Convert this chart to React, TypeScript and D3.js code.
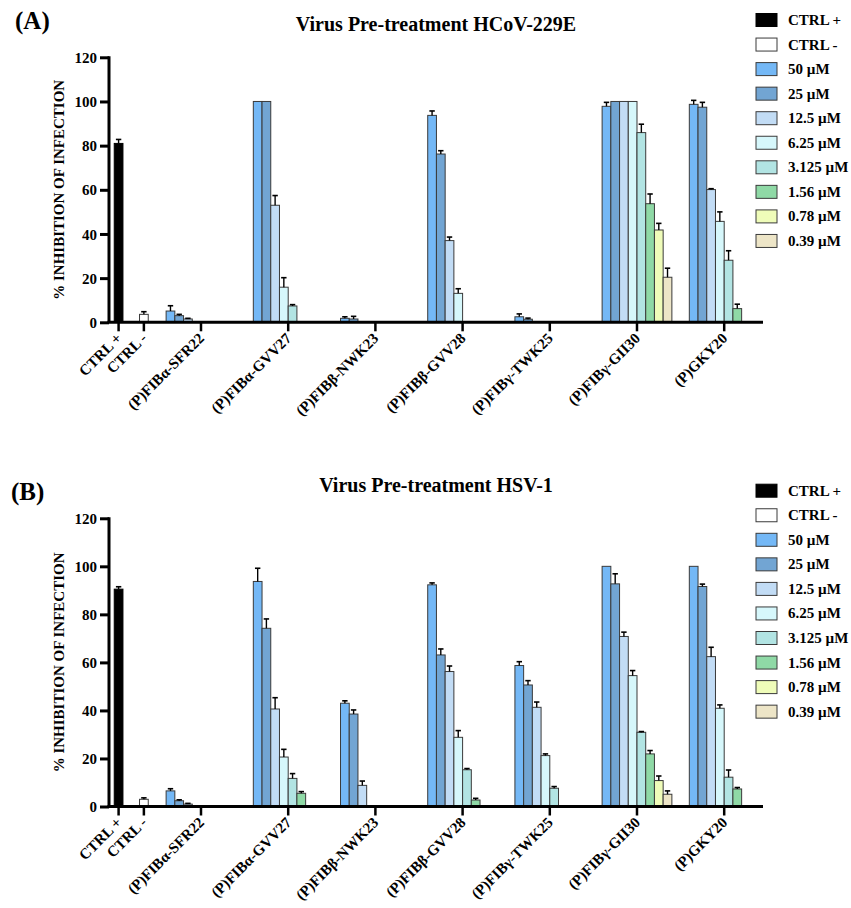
// two grouped bar panels: virus pre-treatment, HCoV-229E and HSV-1
import { useEffect, useRef } from 'react';
import * as d3 from 'd3';

const ctrlLabels = ['CTRL +', 'CTRL -'];
const peptides = ['(P)FIBα-SFR22', '(P)FIBα-GVV27', '(P)FIBβ-NWK23', '(P)FIBβ-GVV28', '(P)FIBγ-TWK25', '(P)FIBγ-GII30', '(P)GKY20'];
const concentrations = ['50 µM', '25 µM', '12.5 µM', '6.25 µM', '3.125 µM', '1.56 µM', '0.78 µM', '0.39 µM'];
const yTicks = [0, 20, 40, 60, 80, 100, 120];

// HCoV-229E
const hcovCtrl = [81, 3.6];
const hcovCtrlErr = [1.8, 1.2];
const hcovMean = [
  [5.1, 3.0, 1.5, 0, 0, 0, 0, 0],
  [100, 100, 53, 15.9, 7.4, 0, 0, 0],
  [1.8, 1.5, 0, 0, 0, 0, 0, 0],
  [93.7, 76.2, 37, 13.1, 0, 0, 0, 0],
  [2.5, 1.4, 0, 0, 0, 0, 0, 0],
  [97.8, 100, 100, 100, 85.9, 53.7, 41.8, 20.4],
  [98.7, 97.4, 60.1, 45.7, 28.1, 6.2, 0, 0],
];
const hcovErr = [
  [2.4, 0.6, 0.3, 0, 0, 0, 0, 0],
  [0, 0, 4.4, 4.3, 0.6, 0, 0, 0],
  [0.7, 1.2, 0, 0, 0, 0, 0, 0],
  [2.0, 1.5, 1.6, 2.1, 0, 0, 0, 0],
  [1.3, 0.5, 0, 0, 0, 0, 0, 0],
  [1.8, 0, 0, 0, 3.8, 4.4, 3.0, 4.1],
  [1.8, 2.2, 0.4, 4.3, 4.3, 2.0, 0, 0],
];

// HSV-1
const hsvCtrl = [90.5, 3.0];
const hsvCtrlErr = [1.0, 0.6];
const hsvMean = [
  [6.5, 2.4, 1.0, 0, 0, 0, 0, 0],
  [93.7, 74.2, 40.6, 20.6, 11.7, 5.5, 0, 0],
  [43, 38.5, 8.8, 0, 0, 0, 0, 0],
  [92.3, 63.1, 56.2, 28.8, 15.3, 2.7, 0, 0],
  [58.7, 50.6, 41.3, 21.2, 7.6, 0, 0, 0],
  [100, 92.7, 70.8, 54.5, 30.9, 21.9, 10.8, 5.1],
  [100, 91.6, 62.4, 40.9, 12.2, 7.3, 0, 0],
];
const hsvErr = [
  [0.9, 0.4, 0.3, 0, 0, 0, 0, 0],
  [5.5, 3.9, 4.7, 3.2, 2.0, 0.7, 0, 0],
  [1.0, 1.7, 1.8, 0, 0, 0, 0, 0],
  [0.8, 2.5, 2.3, 2.8, 0.5, 0.7, 0, 0],
  [1.6, 1.8, 2.2, 0.7, 0.7, 0, 0, 0],
  [0, 4.2, 1.8, 2.1, 0.3, 1.4, 1.9, 1.4],
  [0, 1.0, 3.9, 1.4, 3.0, 0.6, 0, 0],
];

const ctrlColors = ['#000000', '#ffffff'];
const concColors = ['#74b8f6', '#72a5d3', '#c2dcf5', '#d6f7fb', '#b2e4e3', '#8fd9a6', '#effcb9', '#ede5c7'];

const FONT = '"Liberation Serif", "Times New Roman", serif';

function drawPanel(g, o) {
  const x = d3.scaleLinear().domain([0, 75]).range([109, 763]);
  const y = d3.scaleLinear().domain([0, 120]).range([o.y0, o.y120]);
  const bw = x(1) - x(0);
  const ctrlPos = [1.1, 4.0];
  const groupPos = peptides.map((p, i) => 10.55 + 10 * i);

  // titles
  g.append('text').attr('x', o.letterX).attr('y', o.letterY).text(o.letter)
    .style('font-size', 25).style('font-weight', 'bold');
  g.append('text').attr('x', 436).attr('y', o.titleY).attr('text-anchor', 'middle')
    .text(o.title).style('font-size', 20).style('font-weight', 'bold');

  // bars
  const bars = [];
  ctrlLabels.forEach((c, i) => bars.push({
    x: x(ctrlPos[i]) - bw / 2, v: o.ctrl[i], e: o.ctrlErr[i], fill: ctrlColors[i],
  }));
  peptides.forEach((p, i) => o.mean[i].forEach((v, j) => bars.push({
    x: x(groupPos[i] - 4 + j), v, e: o.err[i][j], fill: concColors[j],
  })));
  const shown = bars.filter(d => d.v > 0);
  g.selectAll('rect.bar').data(shown).join('rect')
    .attr('class', 'bar')
    .attr('x', d => d.x).attr('width', bw)
    .attr('y', d => y(d.v)).attr('height', d => y(0) - y(d.v))
    .attr('fill', d => d.fill)
    .attr('stroke', d => d.fill === '#000000' ? '#000' : '#3a3a3a')
    .attr('stroke-width', 1);

  const eb = shown.filter(d => d.e > 0);
  g.selectAll('line.err').data(eb).join('line')
    .attr('class', 'err')
    .attr('x1', d => d.x + bw / 2).attr('x2', d => d.x + bw / 2)
    .attr('y1', d => y(d.v)).attr('y2', d => y(d.v + d.e))
    .attr('stroke', '#000').attr('stroke-width', 1.4);
  g.selectAll('line.cap').data(eb).join('line')
    .attr('class', 'cap')
    .attr('x1', d => d.x + bw / 2 - 2.7).attr('x2', d => d.x + bw / 2 + 2.7)
    .attr('y1', d => y(d.v + d.e)).attr('y2', d => y(d.v + d.e))
    .attr('stroke', '#000').attr('stroke-width', 1.6);

  // y axis
  const ya = g.append('g').attr('transform', `translate(${x(0)},0)`)
    .call(d3.axisLeft(y).tickValues(yTicks).tickSize(9).tickPadding(3).tickSizeOuter(0));
  ya.select('.domain').attr('stroke-width', 3).attr('d', `M0,${y(120) - 1}V${y(0)}`);
  ya.selectAll('.tick line').attr('stroke-width', 3);
  ya.selectAll('.tick text').style('font-size', 15).style('font-weight', 'bold')
    .style('font-family', FONT).attr('dy', '0.34em');

  // x axis
  const tickPos = ctrlPos.concat(groupPos);
  const tickLabels = ctrlLabels.concat(peptides);
  const xa = g.append('g').attr('transform', `translate(0,${y(0)})`);
  xa.append('line').attr('x1', x(0) - 1.5).attr('x2', x(75)).attr('stroke', '#000').attr('stroke-width', 3);
  xa.selectAll('line.tk').data(tickPos).join('line').attr('class', 'tk')
    .attr('x1', d => x(d)).attr('x2', d => x(d)).attr('y1', 0).attr('y2', 9)
    .attr('stroke', '#000').attr('stroke-width', 2.5);
  xa.selectAll('text').data(tickLabels).join('text')
    .attr('transform', (d, i) => `translate(${x(tickPos[i]) + 4},${17}) rotate(-45)`)
    .attr('text-anchor', 'end')
    .text(d => d)
    .style('font-size', 15).style('font-weight', 'bold');

  // y label
  g.append('text')
    .attr('transform', `translate(64,${(y(0) + y(120)) / 2}) rotate(-90)`)
    .attr('text-anchor', 'middle')
    .text('% INHIBITION OF INFECTION')
    .style('font-size', 15).style('font-weight', 'bold');

  // legend
  const legendLabels = ctrlLabels.concat(concentrations);
  const legendColors = ctrlColors.concat(concColors);
  const lg = g.selectAll('g.leg').data(legendLabels).join('g').attr('class', 'leg')
    .attr('transform', (d, i) => `translate(756,${o.legendY + i * 24.55})`);
  lg.append('rect').attr('x', 0).attr('y', -6.5).attr('width', 21).attr('height', 13)
    .attr('fill', (d, i) => legendColors[i]).attr('stroke', (d, i) => i === 0 ? '#000' : '#3a3a3a');
  lg.append('text').attr('x', 32).attr('y', 5).text(d => d)
    .style('font-size', 15).style('font-weight', 'bold');
}

export default function App() {
  const ref = useRef(null);
  useEffect(() => {
    const svg = d3.select(ref.current);
    svg.selectAll('*').remove();
    drawPanel(svg.append('g'), {
      letter: '(A)', letterX: 15, letterY: 29, title: 'Virus Pre-treatment HCoV-229E', titleY: 31,
      y0: 322.3, y120: 57.3, legendY: 20,
      ctrl: hcovCtrl, ctrlErr: hcovCtrlErr, mean: hcovMean, err: hcovErr,
    });
    drawPanel(svg.append('g'), {
      letter: '(B)', letterX: 11, letterY: 500, title: 'Virus Pre-treatment HSV-1', titleY: 492,
      y0: 806.5, y120: 518.3, legendY: 490.7,
      ctrl: hsvCtrl, ctrlErr: hsvCtrlErr, mean: hsvMean, err: hsvErr,
    });
  }, []);

  return (
    <svg ref={ref} width={851} height={908}
      style={{ position: 'absolute', left: 0, top: 0, background: '#fff', fontFamily: FONT }} />
  );
}
